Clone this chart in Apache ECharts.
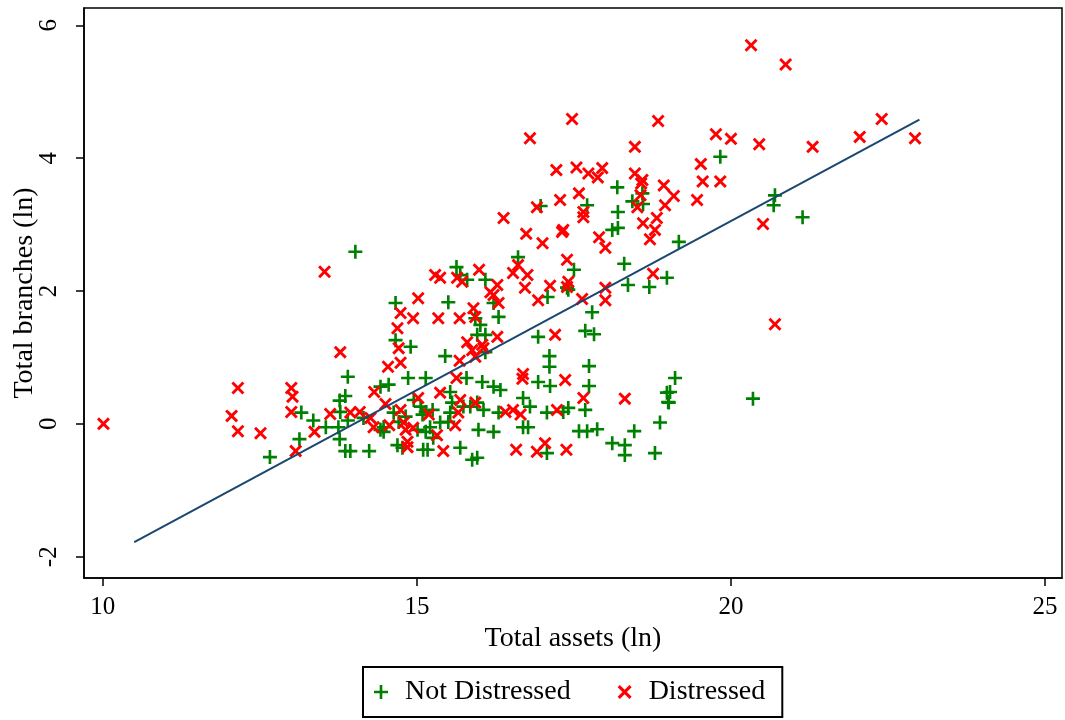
<!DOCTYPE html>
<html>
<head>
<meta charset="utf-8">
<script src="https://cdn.jsdelivr.net/npm/echarts@6/dist/echarts.min.js"></script>
<style>
  html, body { margin: 0; padding: 0; background: #fff; }
  #chart { width: 1065px; height: 720px; }
</style>
</head>
<body>
<div id="chart"></div>
<script>
// Not distressed banks: total assets (ln) vs total branches (ln)
const notDistressedAssets = [12.66,14.02,13.90,13.16,13.35,13.77,13.86,13.78,13.55,13.75,13.77,13.13,13.86,13.94,14.24,13.90,14.15,14.42,14.55,14.42,
  15.63,15.69,15.80,14.66,15.50,15.93,14.66,14.90,15.96,15.45,14.86,15.14,15.79,15.53,14.95,15.06,15.14,15.09,15.25,15.56,15.74,15.85,15.96,15.53,14.63,14.82,15.50,15.37,15.21,14.71,14.47,14.47,15.01,15.14,15.26,14.69,14.77,15.10,15.17,15.69,15.88,15.96,15.98,
  16.61,17.08,17.39,16.09,16.22,16.30,16.01,16.09,16.09,16.93,17.11,17.11,16.93,17.12,16.04,16.22,16.33,16.69,16.80,16.06,16.30,17.07,17.33,16.69,16.77,16.22,17.07,
  18.19,18.59,18.43,18.60,17.71,18.20,18.11,18.20,17.50,18.30,18.98,17.41,18.36,18.70,17.79,17.68,17.82,17.74,17.74,17.68,17.41,17.58,17.71,17.87,18.46,18.87,18.11,18.31,18.31,18.79,18.98,19.00,
  19.83,20.70,20.68,19.17,19.11,19.03,19.01,20.35,21.14,16.97]
const notDistressedBranches = [-0.50,2.59,0.71,0.17,0.05,0.35,0.42,0.18,-0.05,-0.05,-0.23,-0.23,-0.41,-0.41,-0.41,0.05,0.09,0.56,0.59,-0.09,
  2.36,2.24,2.17,1.82,1.83,1.59,1.26,1.16,1.34,1.02,0.69,0.69,0.69,0.48,0.36,0.26,0.18,0.14,0.21,0.32,0.26,0.26,0.32,0.17,0.17,0.11,0.03,0.02,-0.05,0.03,-0.05,-0.12,-0.09,-0.12,-0.21,-0.32,-0.36,-0.39,-0.39,-0.36,-0.54,-0.51,-0.09,
  2.51,1.91,2.05,2.17,1.82,1.61,1.49,1.34,1.08,1.31,1.02,0.86,0.63,0.57,0.63,0.56,0.51,0.39,0.26,0.21,0.17,0.17,0.18,-0.05,-0.05,-0.12,-0.44,
  3.56,3.47,3.35,3.31,3.29,3.19,2.92,2.95,2.32,2.41,2.20,2.02,2.09,2.06,1.68,1.40,1.35,0.87,0.57,0.21,0.24,-0.11,-0.11,-0.08,-0.11,0.02,-0.29,-0.32,-0.47,-0.44,0.47,0.33,
  4.02,3.44,3.29,2.74,0.69,0.48,0.32,0.38,3.11,3.28]

// Distressed banks
const distressedAssets = [10.01,12.15,12.05,12.15,12.51,13.53,13.78,13.00,13.02,13.00,
  13.62,13.94,14.09,13.37,13.07,14.32,14.54,14.26,14.31,14.50,
  14.56,15.29,15.37,15.72,15.64,15.99,15.02,14.74,14.94,15.34,
  15.68,15.90,14.69,14.71,15.80,14.74,15.68,15.63,15.37,15.02,
  15.69,15.93,14.74,15.19,15.66,15.61,14.79,14.82,14.94,15.32,
  14.85,14.85,15.42,16.74,17.00,17.31,16.61,16.53,16.76,16.72,
  16.93,17.12,17.39,17.39,16.17,16.22,16.28,16.30,15.93,16.28,
  16.04,16.06,15.88,15.93,17.20,16.69,16.68,17.36,16.41,16.53,
  16.65,17.23,16.58,16.91,17.04,17.38,18.57,17.58,17.28,18.56,
  18.51,18.95,17.65,17.65,17.33,17.90,18.00,18.60,18.82,18.79,
  18.71,17.41,18.76,18.00,18.00,17.63,17.65,18.31,19.76,20.00,
  20.45,19.52,19.55,19.83,18.93,19.09,19.46,20.51,20.70,20.32,
  20.87,21.30,22.05,22.40,22.93,17.47,18.84,16.80,18.47,17.22,
  17.54,17.73,17.95,17.88,18.47,18.59,16.91,16.38]
const distressedBranches = [0.00,0.54,0.12,-0.11,-0.14,2.29,1.08,0.54,0.41,0.18,
  0.15,0.17,0.18,-0.12,-0.41,0.48,0.86,0.09,-0.05,0.30,
  -0.02,2.24,2.20,2.14,2.20,2.32,1.89,1.67,1.59,1.59,
  1.59,1.74,1.44,1.14,1.23,0.92,0.95,0.69,0.47,0.39,
  0.36,0.32,0.21,0.14,0.17,-0.02,0.02,-0.09,-0.06,-0.17,
  -0.27,-0.35,-0.41,2.86,2.72,2.89,2.39,2.27,2.24,2.05,
  1.86,2.08,2.06,2.47,1.98,1.94,2.09,1.82,1.61,1.31,
  1.19,1.14,1.11,1.01,1.34,0.75,0.68,0.66,0.18,0.21,
  0.14,0.21,-0.39,-0.42,-0.29,-0.39,3.62,3.47,3.37,3.44,
  3.26,3.29,3.19,3.11,2.92,2.81,2.65,3.02,3.10,2.92,
  2.78,2.14,2.26,2.05,1.86,1.88,0.39,0.38,4.36,4.29,
  4.21,3.91,3.65,3.65,3.59,3.43,3.37,3.01,1.50,5.70,
  5.41,4.17,4.32,4.59,4.30,4.59,4.56,4.30,4.17,3.82,
  3.86,3.77,3.85,3.71,3.77,3.67,3.26,3.10]

// fitted line end points
const fitAssets = [10.5, 23]
const fitBranches = [-1.78, 4.58]

const xTicks = [10, 15, 20, 25]
const yTicks = [-2, 0, 2, 4, 6]

const zip = (a, b) => a.map((v, i) => [v, b[i]])

const plusIcon = 'path://M6.5,0H9.5V6.5H16V9.5H9.5V16H6.5V9.5H0V6.5H6.5Z'
const crossIcon = 'path://M0,2.5L2.5,0L8,5.5L13.5,0L16,2.5L10.5,8L16,13.5L13.5,16L8,10.5L2.5,16L0,13.5L5.5,8Z'
const font = 'Liberation Serif'

const chart = echarts.init(document.getElementById('chart'))
chart.setOption({
  backgroundColor: '#fff',
  animation: false,
  grid: {
    left: 84, right: 3, top: 8, bottom: 142, outerBoundsMode: 'none', containLabel: false,
    show: true, borderColor: '#000', borderWidth: 1.5
  },
  xAxis: {
    type: 'value', min: 9.7, max: 25.27,
    name: 'Total assets (ln)', nameLocation: 'middle', nameGap: 42,
    nameTextStyle: { fontFamily: font, fontSize: 28, color: '#000' },
    axisLine: { show: true, onZero: false, lineStyle: { color: '#000', width: 1.5 } },
    axisTick: { show: true, customValues: xTicks, length: 8, lineStyle: { color: '#000', width: 1.5 } },
    axisLabel: { customValues: xTicks, margin: 17, fontFamily: font, fontSize: 25, color: '#000' },
    splitLine: { show: false }
  },
  yAxis: {
    type: 'value', min: -2.32, max: 6.26,
    name: 'Total branches (ln)', nameLocation: 'middle', nameGap: 45, nameMoveOverlap: false,
    nameTextStyle: { fontFamily: font, fontSize: 28, color: '#000' },
    axisLine: { show: true, onZero: false, lineStyle: { color: '#000', width: 1.5 } },
    axisTick: { show: true, customValues: yTicks, length: 8, lineStyle: { color: '#000', width: 1.5 } },
    axisLabel: { customValues: yTicks, rotate: 90, margin: 22, fontFamily: font, fontSize: 25, color: '#000' },
    splitLine: { show: false }
  },
  legend: {
    left: 363, top: 667,
    padding: [10, 17, 10, 11],
    itemGap: 47, itemWidth: 14, itemHeight: 14,
    borderColor: '#000', borderWidth: 2,
    textStyle: { fontFamily: font, fontSize: 28, color: '#000', padding: [0, 0, 0, 12], lineHeight: 30 },
    data: [
      { name: 'Not Distressed', icon: plusIcon },
      { name: 'Distressed', icon: crossIcon }
    ]
  },
  series: [
    {
      name: 'Not Distressed', type: 'scatter',
      symbol: plusIcon, symbolSize: 14,
      itemStyle: { color: '#008000', opacity: 1 },
      data: zip(notDistressedAssets, notDistressedBranches)
    },
    {
      name: 'Distressed', type: 'scatter',
      symbol: crossIcon, symbolSize: 13,
      itemStyle: { color: '#ff0000', opacity: 1 },
      data: zip(distressedAssets, distressedBranches)
    },
    {
      name: 'Fitted', type: 'line', showSymbol: false, silent: true,
      lineStyle: { color: '#1a476f', width: 2 },
      data: zip(fitAssets, fitBranches)
    }
  ]
})
</script>
</body>
</html>
